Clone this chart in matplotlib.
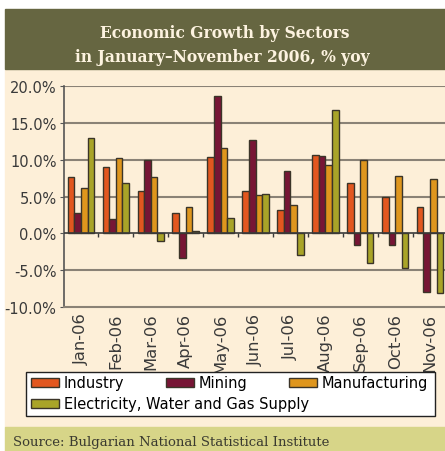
import numpy as np
import matplotlib.pyplot as plt
from matplotlib.patches import Rectangle, Patch

months = ['Jan-06', 'Feb-06', 'Mar-06', 'Apr-06', 'May-06', 'Jun-06',
          'Jul-06', 'Aug-06', 'Sep-06', 'Oct-06', 'Nov-06']
industry = [7.7, 9.0, 5.8, 2.7, 10.3, 5.8, 3.1, 10.6, 6.8, 5.0, 3.6]
mining = [2.8, 1.9, 10.0, -3.4, 18.7, 12.7, 8.4, 10.5, -1.6, -1.6, -7.9]
manufacturing = [6.2, 10.2, 7.7, 3.6, 11.6, 5.2, 3.8, 9.3, 9.9, 7.8, 7.4]
electricity = [12.9, 6.8, -1.1, 0.3, 2.1, 5.3, -2.9, 16.7, -4.0, -4.7, -8.1]

series = [('Industry', industry, '#e2571f'),
          ('Mining', mining, '#771535'),
          ('Manufacturing', manufacturing, '#df961d'),
          ('Electricity, Water and Gas Supply', electricity, '#a9a428')]

W, H = 445, 452
fig = plt.figure(figsize=(W / 100, H / 100), dpi=100)
fig.patch.set_facecolor('white')

# background panels
fig.patches.append(Rectangle((5 / W, 1 - 428 / H), 440 / W, 358 / H,
                             transform=fig.transFigure, color='#fdefd8', zorder=-2))
fig.patches.append(Rectangle((5 / W, 1 - 70 / H), 440 / W, 60 / H,
                             transform=fig.transFigure, color='#666641', zorder=-2))
fig.patches.append(Rectangle((5 / W, 0), 440 / W, 24 / H,
                             transform=fig.transFigure, color='#d7d588', zorder=-2))

fig.text(225 / W, 1 - 33 / H, 'Economic Growth by Sectors', ha='center', va='center',
         color='#fdf3e0', fontsize=11.2, fontweight='bold', family='DejaVu Serif')
fig.text(222 / W, 1 - 58 / H, 'in January\u2013November 2006, % yoy', ha='center',
         va='center', color='#fdf3e0', fontsize=11.2, fontweight='bold', family='DejaVu Serif')
fig.text(13 / W, 1 - 443 / H, 'Source: Bulgarian National Statistical Institute',
         ha='left', va='center', color='#3a3a30', fontsize=9.5, family='DejaVu Serif')

ax = fig.add_axes([63.5 / W, 1 - 308 / H, 384 / W, 221 / H])
ax.set_facecolor('none')
x = np.arange(len(months))
bw = 0.19
for i, (name, vals, col) in enumerate(series):
    ax.bar(x + (i - 1.5) * bw, vals, bw, color=col, edgecolor='#3b3428',
           linewidth=1.0, zorder=3, label=name)

ax.set_xlim(-0.5, len(months) - 0.5)
ax.set_ylim(-10, 20)
ax.set_yticks([-10, -5, 0, 5, 10, 15, 20])
ax.set_yticklabels(['%.1f%%' % v for v in [-10, -5, 0, 5, 10, 15, 20]],
                   fontsize=10.5, color='#3a3a3a')
for v in [-5, 5, 10, 15, 20]:
    ax.axhline(v, color='#8a8276', linewidth=1.5, zorder=1)
ax.axhline(0, color='#3a3a3a', linewidth=1.2, zorder=4)
ax.vlines(x[1:] - 0.5, -0.5, 0, color='#3a3a3a', linewidth=1.0, zorder=4)

ax.set_xticks(x)
ax.set_xticklabels(months, rotation=90, fontsize=11.8, color='#3a3a3a')
ax.tick_params(axis='x', length=0, pad=4)
ax.tick_params(axis='y', length=3, color='#555555', pad=2)
for s in ['top', 'right']:
    ax.spines[s].set_visible(False)
ax.spines['left'].set_color('#555555')
ax.spines['left'].set_linewidth(1.2)
ax.spines['bottom'].set_color('#8a8276')
ax.spines['bottom'].set_linewidth(1.5)

# legend box
fig.patches.append(Rectangle((26 / W, 1 - 417 / H), 409 / W, 44 / H,
                             transform=fig.transFigure, facecolor='white',
                             edgecolor='#222222', linewidth=1.0, zorder=1))
leg_pos = [(31, 384), (166, 384), (289, 384), (31, 405)]
for (name, _, col), (lx, ly) in zip(series, leg_pos):
    h = Patch(facecolor=col, edgecolor='#3b3428', label=name)
    fig.legend(handles=[h], loc='center left', bbox_to_anchor=(lx / W, 1 - ly / H),
               frameon=False, fontsize=10.5, handlelength=1.95, handleheight=0.55,
               handletextpad=0.3, borderpad=0, borderaxespad=0)

fig.savefig('out.png', dpi=100, facecolor=fig.get_facecolor())
